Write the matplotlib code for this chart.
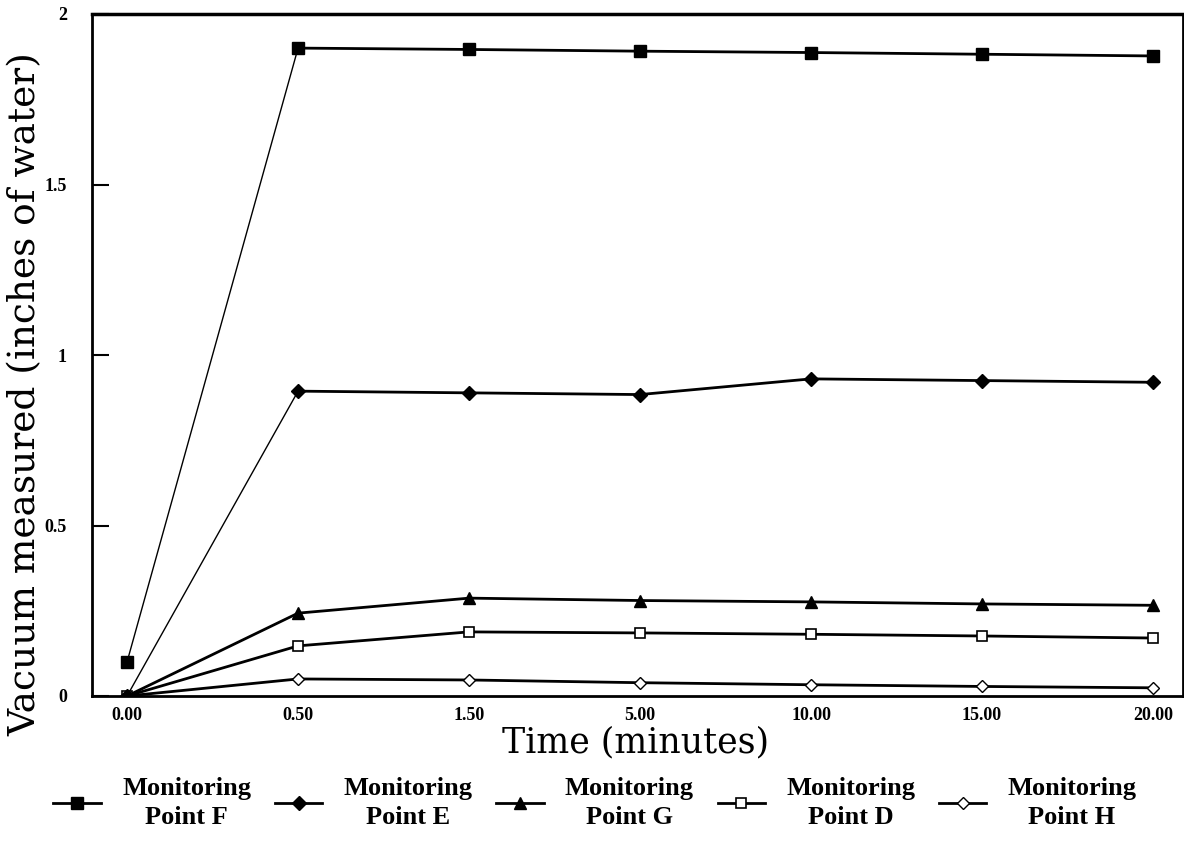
import matplotlib
matplotlib.use("Agg")
import matplotlib.pyplot as plt
from matplotlib.lines import Line2D

time_labels = ["0.00", "0.50", "1.50", "5.00", "10.00", "15.00", "20.00"]
point_F = [0.10, 1.900, 1.896, 1.891, 1.887, 1.882, 1.877]
point_E = [0.00, 0.894, 0.889, 0.884, 0.930, 0.925, 0.920]
point_G = [0.00, 0.243, 0.287, 0.280, 0.276, 0.270, 0.266]
point_D = [0.00, 0.147, 0.188, 0.185, 0.181, 0.176, 0.170]
point_H = [0.00, 0.050, 0.047, 0.039, 0.033, 0.028, 0.024]
series_names = ["Monitoring\nPoint F", "Monitoring\nPoint E", "Monitoring\nPoint G",
                "Monitoring\nPoint D", "Monitoring\nPoint H"]
y_ticks = [0, 0.5, 1, 1.5, 2]
y_tick_labels = ["0", "0.5", "1", "1.5", "2"]

plt.rcParams['font.family'] = ['Liberation Serif', 'DejaVu Serif']

fig = plt.figure(figsize=(11.84, 8.57), dpi=100)
ax = fig.add_axes([92/1184, 1-696/857, (1183-92)/1184, (696-14)/857])

x = list(range(len(time_labels)))
styles = [
    dict(marker='s', ms=8, mfc='black', mec='black'),
    dict(marker='D', ms=7, mfc='black', mec='black'),
    dict(marker='^', ms=9, mfc='black', mec='black'),
    dict(marker='s', ms=7, mfc='white', mec='black', mew=1.2),
    dict(marker='D', ms=6, mfc='white', mec='black', mew=1.0),
]
thin_first = [True, True, False, False, False]
series = [point_F, point_E, point_G, point_D, point_H]
handles = []
for vals, st, thin in zip(series, styles, thin_first):
    if thin:
        ax.plot(x[:2], vals[:2], color='black', lw=1.0, zorder=2)
        ax.plot(x[1:], vals[1:], color='black', lw=2.0, zorder=2)
        ax.plot(x, vals, linestyle='none', color='black', zorder=3, **st)
    else:
        ax.plot(x, vals, color='black', lw=2.0, zorder=2, **st)
    handles.append(Line2D([], [], color='black', lw=2.0, **st))

ax.set_xlim(-0.205, 6.175)
ax.set_ylim(0, 2)
ax.set_xticks(x)
ax.set_xticklabels(time_labels, fontsize=13, fontweight='bold')
ax.set_yticks(y_ticks)
ax.set_yticklabels(y_tick_labels, fontsize=13, fontweight='bold')
ax.tick_params(axis='x', length=0, pad=8)
ax.tick_params(axis='y', direction='in', length=12, width=1.5, pad=18)
for s in ax.spines.values():
    s.set_linewidth(2.0)
ax.spines['top'].set_linewidth(2.5)

fig.text(26/1184, 1-394/857, "Vacuum measured (inches of water)", rotation=90,
         ha='center', va='center', fontsize=27, family='DejaVu Serif')
fig.text(636/1184, 1-742/857, "Time (minutes)", ha='center', va='center',
         fontsize=25, family='DejaVu Serif')

leg = fig.legend(handles, series_names, loc='center', ncol=5,
                 bbox_to_anchor=(595/1184, 1-803/857), frameon=False,
                 prop=dict(size=19, weight='bold'), handlelength=1.8,
                 handletextpad=0.8, columnspacing=0.9)
for t in leg.get_texts():
    t.set_multialignment('center')
    t.set_linespacing(1.3)

fig.savefig("out.png", dpi=100)
